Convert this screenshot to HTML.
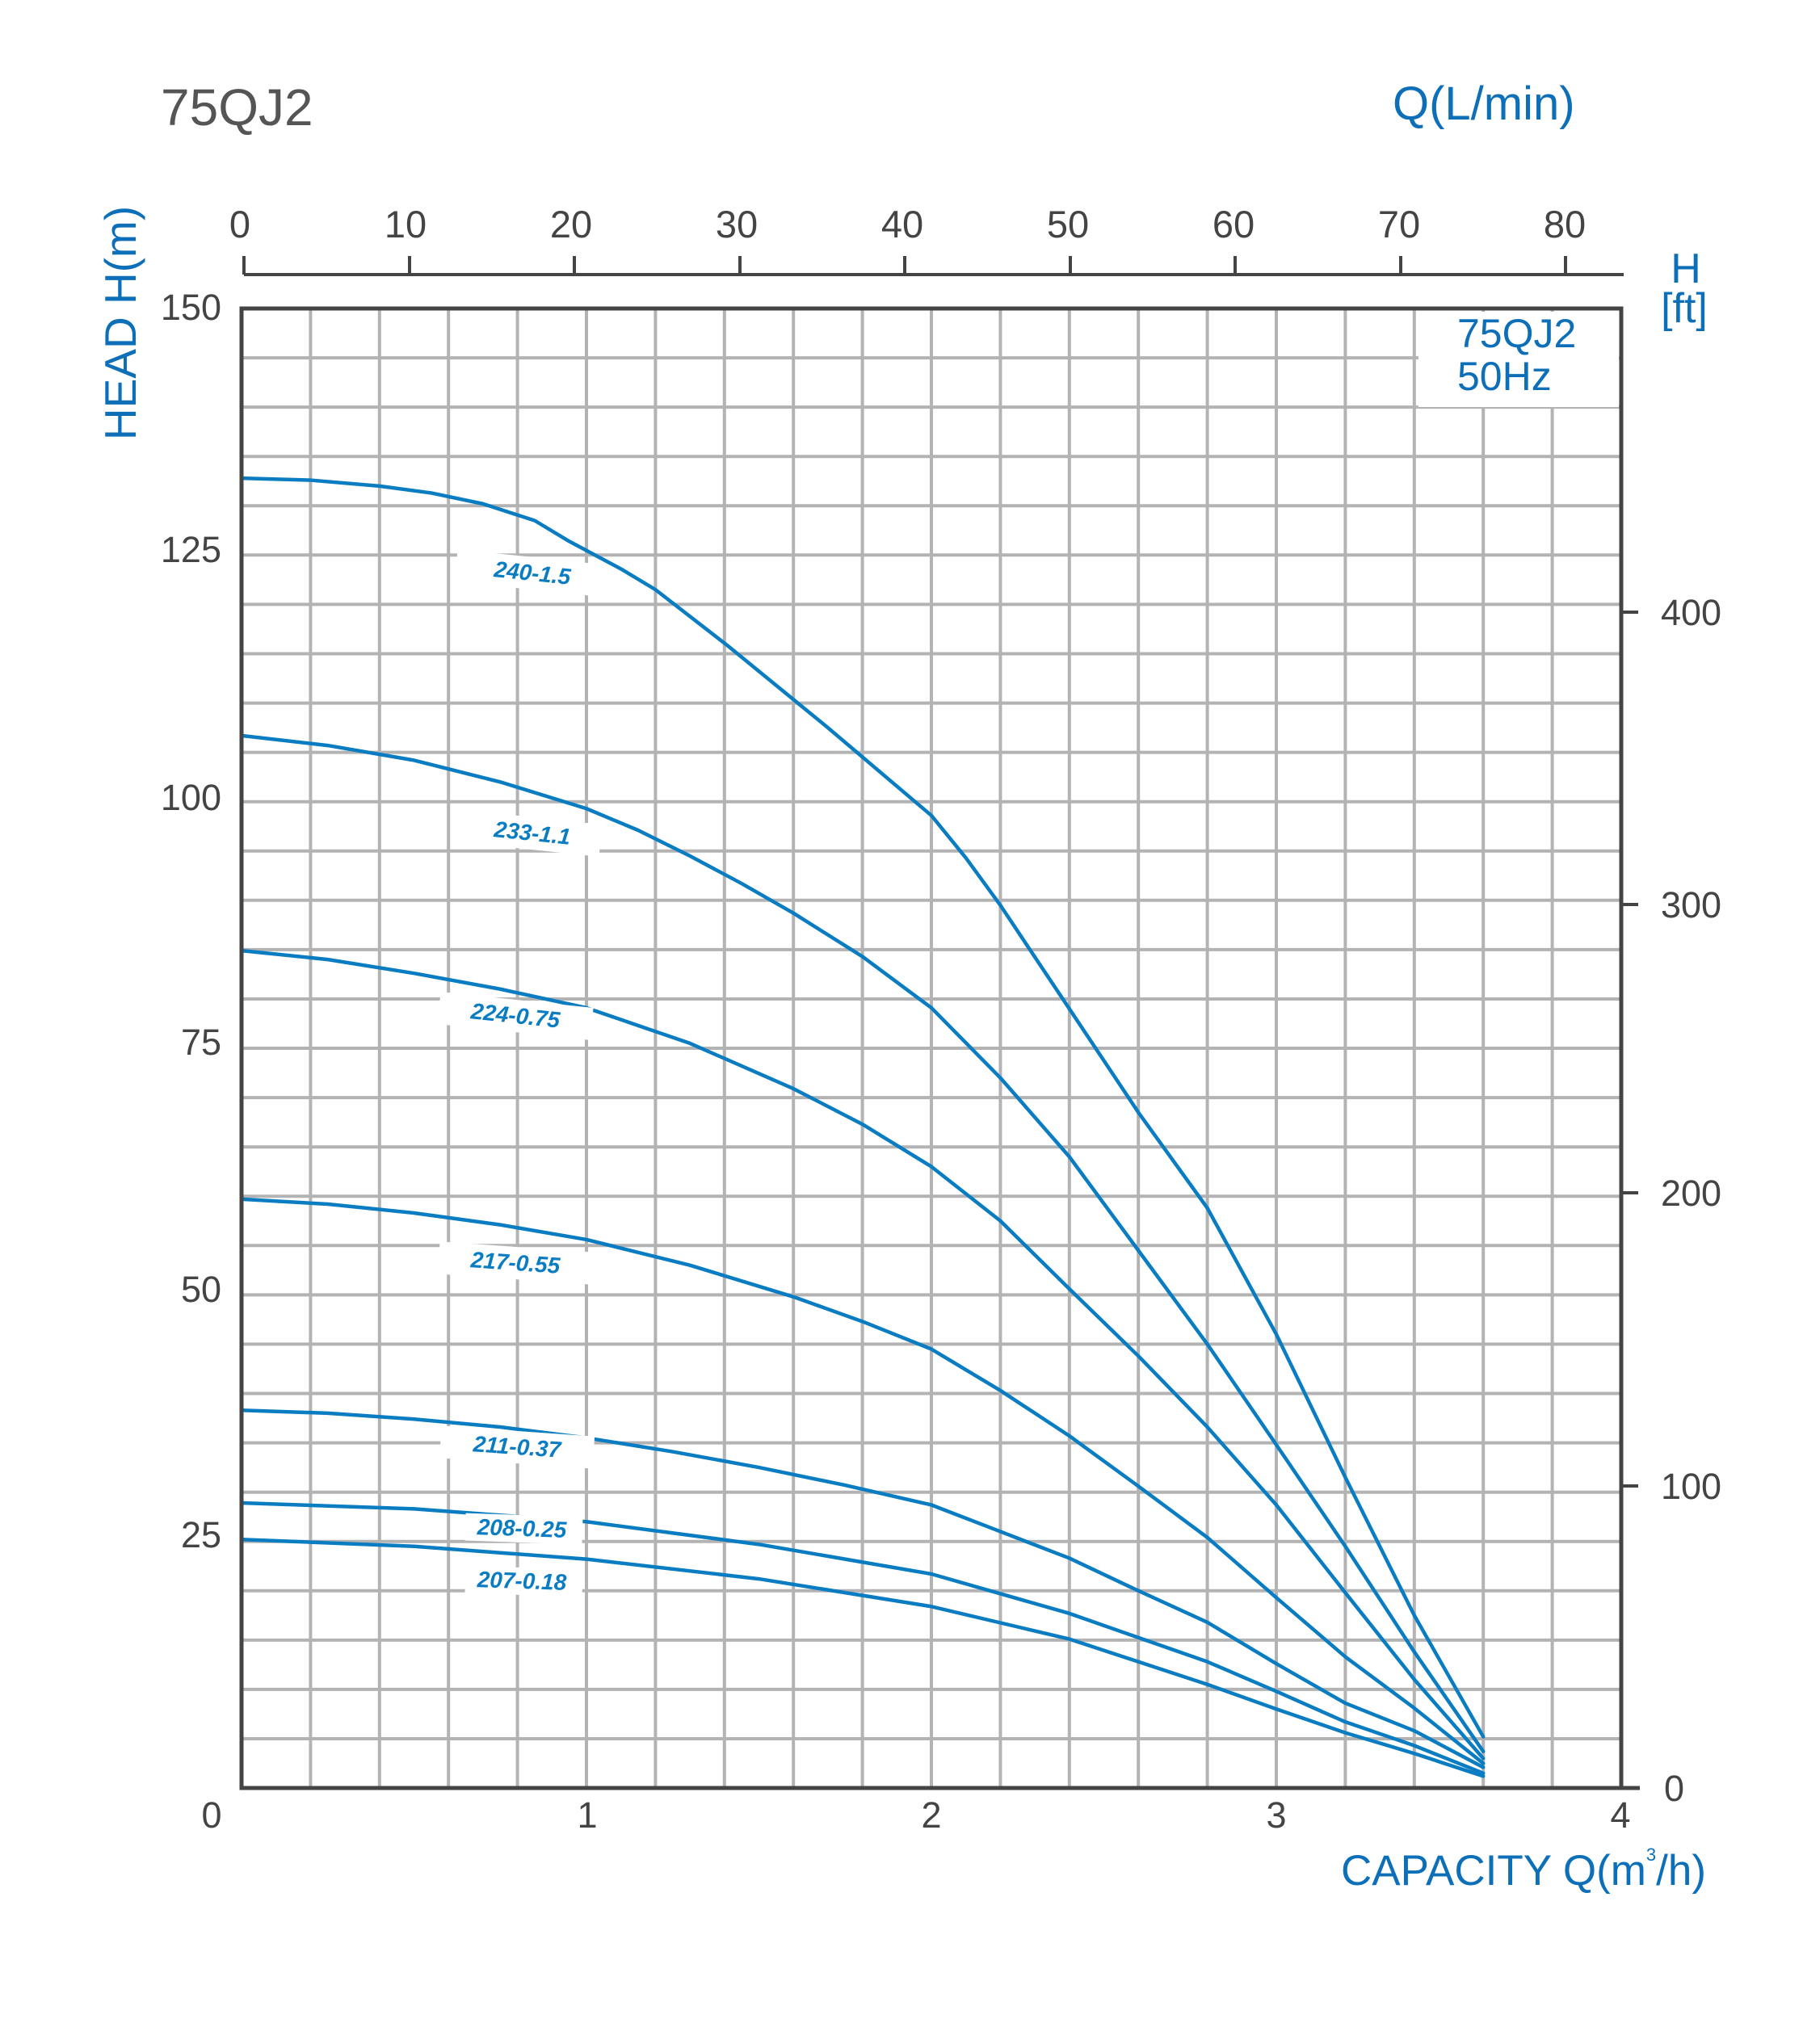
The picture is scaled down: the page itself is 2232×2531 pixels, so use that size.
<!DOCTYPE html>
<html><head><meta charset="utf-8"><style>
html,body{margin:0;padding:0;background:#fff;}
svg{display:block;}
text{font-family:"Liberation Sans",sans-serif;}
</style></head><body>
<svg width="2232" height="2531" viewBox="0 0 2232 2531" xmlns="http://www.w3.org/2000/svg">
<rect width="2232" height="2531" fill="#fff"/>
<g stroke="#b3b3b3" stroke-width="4">
<line x1="384.4" y1="382" x2="384.4" y2="2214"/><line x1="469.8" y1="382" x2="469.8" y2="2214"/><line x1="555.2" y1="382" x2="555.2" y2="2214"/><line x1="640.6" y1="382" x2="640.6" y2="2214"/><line x1="726" y1="382" x2="726" y2="2214"/><line x1="811.4" y1="382" x2="811.4" y2="2214"/><line x1="896.8" y1="382" x2="896.8" y2="2214"/><line x1="982.2" y1="382" x2="982.2" y2="2214"/><line x1="1067.6" y1="382" x2="1067.6" y2="2214"/><line x1="1153" y1="382" x2="1153" y2="2214"/><line x1="1238.4" y1="382" x2="1238.4" y2="2214"/><line x1="1323.8" y1="382" x2="1323.8" y2="2214"/><line x1="1409.2" y1="382" x2="1409.2" y2="2214"/><line x1="1494.6" y1="382" x2="1494.6" y2="2214"/><line x1="1580" y1="382" x2="1580" y2="2214"/><line x1="1665.4" y1="382" x2="1665.4" y2="2214"/><line x1="1750.8" y1="382" x2="1750.8" y2="2214"/><line x1="1836.2" y1="382" x2="1836.2" y2="2214"/><line x1="1921.6" y1="382" x2="1921.6" y2="2214"/>
<line x1="299" y1="443.1" x2="2007" y2="443.1"/><line x1="299" y1="504.1" x2="2007" y2="504.1"/><line x1="299" y1="565.2" x2="2007" y2="565.2"/><line x1="299" y1="626.3" x2="2007" y2="626.3"/><line x1="299" y1="687.3" x2="2007" y2="687.3"/><line x1="299" y1="748.4" x2="2007" y2="748.4"/><line x1="299" y1="809.5" x2="2007" y2="809.5"/><line x1="299" y1="870.6" x2="2007" y2="870.6"/><line x1="299" y1="931.6" x2="2007" y2="931.6"/><line x1="299" y1="992.7" x2="2007" y2="992.7"/><line x1="299" y1="1053.8" x2="2007" y2="1053.8"/><line x1="299" y1="1114.8" x2="2007" y2="1114.8"/><line x1="299" y1="1175.9" x2="2007" y2="1175.9"/><line x1="299" y1="1237" x2="2007" y2="1237"/><line x1="299" y1="1298" x2="2007" y2="1298"/><line x1="299" y1="1359.1" x2="2007" y2="1359.1"/><line x1="299" y1="1420.2" x2="2007" y2="1420.2"/><line x1="299" y1="1481.2" x2="2007" y2="1481.2"/><line x1="299" y1="1542.3" x2="2007" y2="1542.3"/><line x1="299" y1="1603.4" x2="2007" y2="1603.4"/><line x1="299" y1="1664.4" x2="2007" y2="1664.4"/><line x1="299" y1="1725.5" x2="2007" y2="1725.5"/><line x1="299" y1="1786.6" x2="2007" y2="1786.6"/><line x1="299" y1="1847.7" x2="2007" y2="1847.7"/><line x1="299" y1="1908.7" x2="2007" y2="1908.7"/><line x1="299" y1="1969.8" x2="2007" y2="1969.8"/><line x1="299" y1="2030.9" x2="2007" y2="2030.9"/><line x1="299" y1="2091.9" x2="2007" y2="2091.9"/><line x1="299" y1="2153" x2="2007" y2="2153"/>
</g>
<rect x="1756" y="386" width="248" height="118" fill="#fff"/>
<text x="1804" y="430" font-size="50" fill="#0d6fb8">75QJ2</text>
<text x="1804" y="483" font-size="50" fill="#0d6fb8">50Hz</text>
<g transform="translate(299,2214) scale(427,-12.213)" fill="none" stroke="#0a7dc2" stroke-width="4.5" stroke-linejoin="round" stroke-linecap="round">
<polyline vector-effect="non-scaling-stroke" points="0,132.8 0.2,132.6 0.4,132 0.55,131.3 0.7,130.2 0.85,128.5 0.95,126.4 1.1,123.6 1.2,121.5 1.41,115.8 1.7,107.5 2.0,98.6 2.1,94.3 2.2,89.5 2.4,79 2.6,68.5 2.8,58.8 3.0,46 3.2,31.5 3.4,17.5 3.6,5.2"/>
<polyline vector-effect="non-scaling-stroke" points="0,106.7 0.25,105.7 0.5,104.2 0.75,102 1.0,99.3 1.15,97.1 1.3,94.5 1.45,91.7 1.6,88.7 1.8,84.3 2.0,79.1 2.2,72 2.4,64 2.6,54.5 2.8,45 3.0,34.8 3.2,24.5 3.4,13.8 3.6,3.7"/>
<polyline vector-effect="non-scaling-stroke" points="0,84.9 0.25,84 0.5,82.6 0.75,81 1.0,79.1 1.3,75.5 1.6,70.9 1.8,67.3 2.0,63 2.2,57.5 2.4,50.6 2.6,43.8 2.8,36.6 3.0,28.7 3.2,19.8 3.4,11 3.6,3"/>
<polyline vector-effect="non-scaling-stroke" points="0,59.7 0.25,59.2 0.5,58.3 0.75,57.1 1.0,55.6 1.3,53 1.6,49.8 1.8,47.3 2.0,44.5 2.2,40.3 2.4,35.7 2.6,30.6 2.8,25.4 3.0,19.3 3.2,13.3 3.4,8.1 3.6,2.5"/>
<polyline vector-effect="non-scaling-stroke" points="0,38.3 0.25,38 0.5,37.4 0.75,36.6 1.0,35.5 1.25,34.1 1.5,32.5 1.75,30.7 2.0,28.7 2.2,26 2.4,23.3 2.6,20 2.8,16.8 3.0,12.6 3.2,8.6 3.4,5.8 3.6,2.1"/>
<polyline vector-effect="non-scaling-stroke" points="0,28.9 0.5,28.3 1.0,27 1.5,24.7 2.0,21.7 2.4,17.7 2.8,12.8 3.0,9.8 3.2,6.7 3.4,4.3 3.6,1.5"/>
<polyline vector-effect="non-scaling-stroke" points="0,25.2 0.5,24.5 1.0,23.2 1.5,21.2 2.0,18.4 2.4,15.1 2.8,10.5 3.0,8 3.2,5.6 3.4,3.5 3.6,1.2"/>
</g>
<g font-size="28" font-style="italic" font-weight="bold" fill="#0a7dc2">
<g transform="translate(659,710) rotate(6)"><rect x="-95" y="-20" width="180" height="40" fill="#fff"/><text x="0" y="9" text-anchor="middle">240-1.5</text></g>
<g transform="translate(659,1032) rotate(6)"><rect x="-95" y="-20" width="180" height="40" fill="#fff"/><text x="0" y="9" text-anchor="middle">233-1.1</text></g>
<g transform="translate(638,1258) rotate(6)"><rect x="-95" y="-20" width="190" height="40" fill="#fff"/><text x="0" y="9" text-anchor="middle">224-0.75</text></g>
<g transform="translate(638,1564) rotate(4)"><rect x="-95" y="-20" width="190" height="40" fill="#fff"/><text x="0" y="9" text-anchor="middle">217-0.55</text></g>
<g transform="translate(640,1792) rotate(4)"><rect x="-95" y="-20" width="190" height="40" fill="#fff"/><text x="0" y="9" text-anchor="middle">211-0.37</text></g>
<g transform="translate(646,1893) rotate(2)"><rect x="-70" y="-17" width="145" height="34" fill="#fff"/><text x="0" y="9" text-anchor="middle">208-0.25</text></g>
<g transform="translate(646,1958) rotate(2)"><rect x="-70" y="-17" width="145" height="34" fill="#fff"/><text x="0" y="9" text-anchor="middle">207-0.18</text></g>
</g>
<rect x="299" y="382" width="1708" height="1832" fill="none" stroke="#444" stroke-width="5"/>
<line x1="2007" y1="2214" x2="2030" y2="2214" stroke="#444" stroke-width="5"/>
<g stroke="#444" stroke-width="4">
<line x1="2007" y1="1840" x2="2028" y2="1840"/><line x1="2007" y1="1477" x2="2028" y2="1477"/><line x1="2007" y1="1120" x2="2028" y2="1120"/><line x1="2007" y1="758" x2="2028" y2="758"/>
</g>
<g font-size="45" fill="#444">
<text x="2056" y="1856">100</text><text x="2056" y="1493">200</text><text x="2056" y="1136">300</text><text x="2056" y="774">400</text><text x="2060" y="2230">0</text>
</g>
<g stroke="#444" stroke-width="4">
<line x1="302" y1="340" x2="2010" y2="340"/>
<line x1="302" y1="317" x2="302" y2="340"/><line x1="507" y1="317" x2="507" y2="340"/><line x1="711" y1="317" x2="711" y2="340"/><line x1="916" y1="317" x2="916" y2="340"/><line x1="1120" y1="317" x2="1120" y2="340"/><line x1="1325" y1="317" x2="1325" y2="340"/><line x1="1529" y1="317" x2="1529" y2="340"/><line x1="1734" y1="317" x2="1734" y2="340"/><line x1="1938" y1="317" x2="1938" y2="340"/>
</g>
<g font-size="47" fill="#444" text-anchor="middle">
<text x="297" y="294">0</text><text x="502" y="294">10</text><text x="707" y="294">20</text><text x="912" y="294">30</text><text x="1117" y="294">40</text><text x="1322" y="294">50</text><text x="1527" y="294">60</text><text x="1732" y="294">70</text><text x="1937" y="294">80</text>
</g>
<g font-size="45" fill="#444" text-anchor="end">
<text x="274" y="396">150</text><text x="274" y="696">125</text><text x="274" y="1003">100</text><text x="274" y="1306">75</text><text x="274" y="1612">50</text><text x="274" y="1916">25</text>
</g>
<g font-size="45" fill="#444" text-anchor="middle">
<text x="262" y="2263">0</text><text x="727" y="2263">1</text><text x="1153" y="2263">2</text><text x="1580" y="2263">3</text><text x="2006" y="2263">4</text>
</g>
<text x="199" y="155" font-size="64" fill="#555">75QJ2</text>
<text x="1724" y="148" font-size="58" fill="#0d6fb8">Q(L/min)</text>
<text x="2087" y="350" font-size="52" fill="#0d6fb8" text-anchor="middle">H</text>
<text x="2085" y="399" font-size="52" fill="#0d6fb8" text-anchor="middle">[ft]</text>
<text transform="translate(168,400) rotate(-90)" font-size="55" fill="#0d6fb8" text-anchor="middle">HEAD H(m)</text>
<text x="1660" y="2334" font-size="53" fill="#0d6fb8">CAPACITY Q(m<tspan font-size="22" dy="-30">3</tspan><tspan dy="30">/h)</tspan></text>
</svg>
</body></html>
